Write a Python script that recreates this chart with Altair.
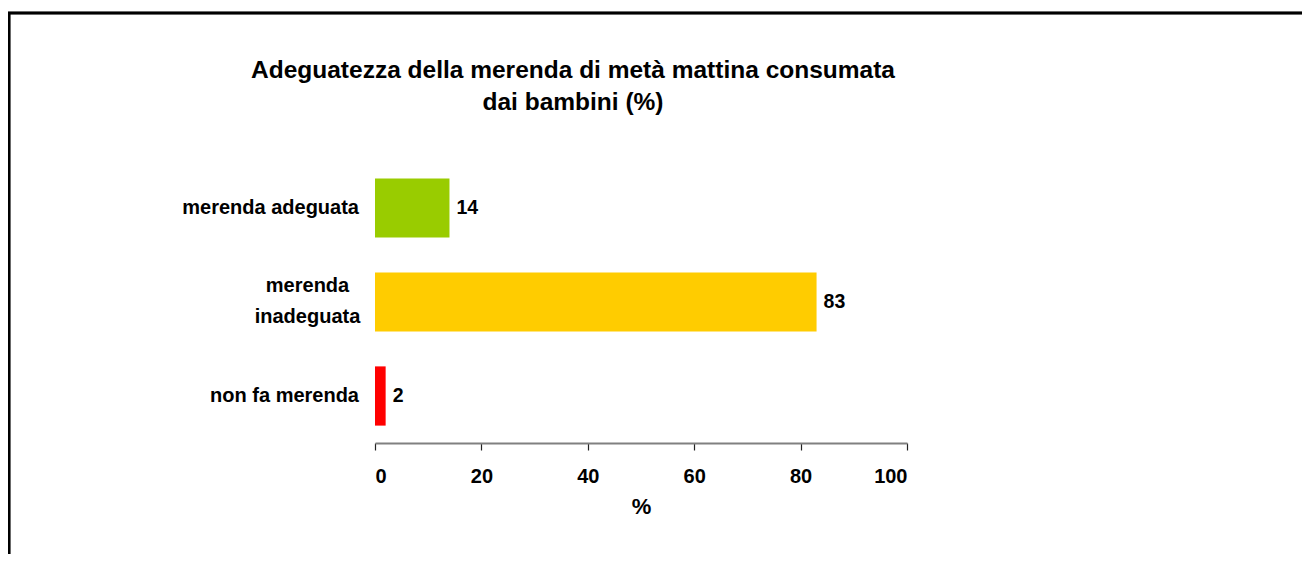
import altair as alt
import pandas as pd

categories = ["merenda adeguata", "merenda inadeguata", "non fa merenda"]
label_text = ["merenda adeguata", "merenda\ninadeguata", "non fa merenda"]
values = [14, 83, 2]
colors = ["#99CC00", "#FFCC00", "#FF0000"]
x_ticks = [0, 20, 40, 60, 80, 100]
title_lines = ["Adeguatezza della merenda di metà mattina consumata", "dai bambini (%)"]

df = pd.DataFrame({"cat": categories, "lab": label_text, "val": values, "col": colors})
tdf = pd.DataFrame({"line": title_lines, "n": [1, 2]})

SANS = "Liberation Sans, Arial, sans-serif"

y_enc = alt.Y("cat:N", sort=categories,
              scale=alt.Scale(paddingInner=0.37, paddingOuter=0.185),
              axis=None)

bars = alt.Chart(df).mark_bar().encode(
    x=alt.X("val:Q", scale=alt.Scale(domain=[0, 100], nice=False),
            axis=alt.Axis(values=x_ticks, title="%", grid=False,
                          domainColor="#808080", domainWidth=2,
                          tickColor="#222222", tickSize=7, tickWidth=1.2,
                          labelFont=SANS, labelFontSize=20, labelFontWeight="bold",
                          labelColor="black", labelPadding=16,
                          titleFont=SANS, titleFontSize=22, titleFontWeight="bold",
                          titleColor="black", titlePadding=10)),
    y=y_enc,
    color=alt.Color("col:N", scale=None),
)

vals = alt.Chart(df).mark_text(align="left", baseline="middle", dx=7,
                               font=SANS, fontSize=19.5, fontWeight="bold",
                               color="black").encode(
    x="val:Q", y=y_enc, text="val:Q")

lab_single = alt.Chart(df).transform_filter(
    alt.datum.cat != "merenda inadeguata"
).mark_text(align="right", baseline="middle", font=SANS, fontSize=20,
            fontWeight="bold", color="black").encode(
    x=alt.value(-16), y=y_enc, text="lab:N")

lab_multi = alt.Chart(df).transform_filter(
    alt.datum.cat == "merenda inadeguata"
).mark_text(align="center", baseline="middle", font=SANS, fontSize=20,
            fontWeight="bold", color="black", lineBreak="\n", lineHeight=31,
            dy=-16).encode(
    x=alt.value(-67.5), y=y_enc, text="lab:N")

title1 = alt.Chart(tdf).transform_filter(alt.datum.n == 1).mark_text(
    align="center", baseline="alphabetic", font=SANS, fontSize=24.5,
    fontWeight="bold", color="black").encode(
    x=alt.value(198), y=alt.value(-83), text="line:N")
title2 = alt.Chart(tdf).transform_filter(alt.datum.n == 2).mark_text(
    align="center", baseline="alphabetic", font=SANS, fontSize=24.5,
    fontWeight="bold", color="black").encode(
    x=alt.value(198), y=alt.value(-51), text="line:N")

border_top = alt.Chart(df).mark_rule(color="black", strokeWidth=2.5, clip=False).encode(
    x=alt.value(-367), x2=alt.value(930), y=alt.value(-148))
border_left = alt.Chart(df).mark_rule(color="black", strokeWidth=2.5, clip=False).encode(
    x=alt.value(-366), y=alt.value(-149), y2=alt.value(400))

chart = alt.layer(border_top, border_left, bars, vals, lab_single, lab_multi,
                  title1, title2).properties(
    width=532, height=282,
    autosize=alt.AutoSizeParams(type="none"),
    padding={"left": 367, "top": 153, "right": 395, "bottom": 111},
).configure_view(stroke=None)

chart.save("out.html", embed_options={"renderer": "svg", "actions": False})
